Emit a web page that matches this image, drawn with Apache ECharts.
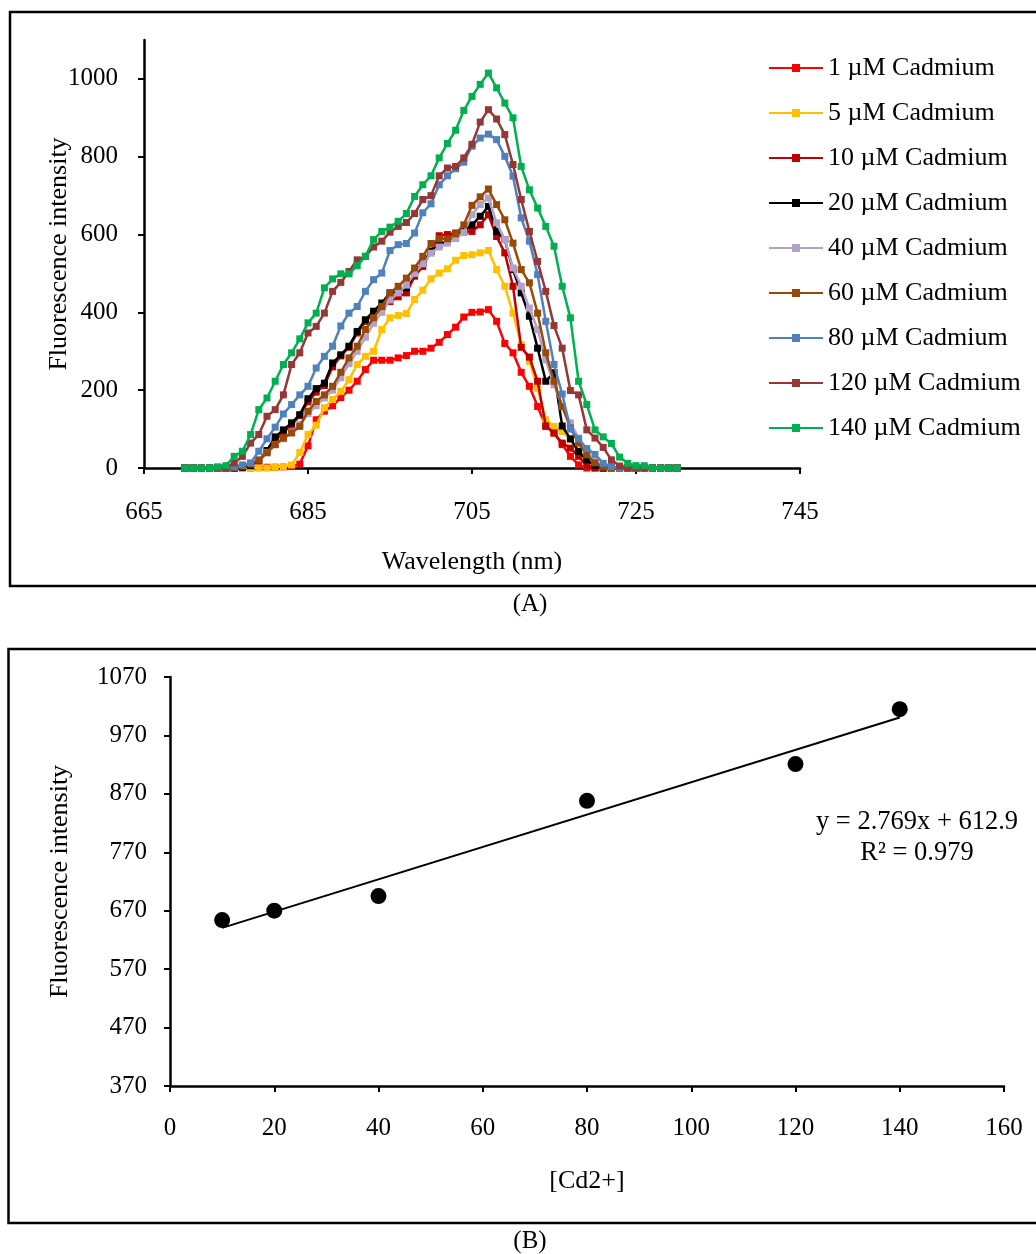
<!DOCTYPE html>
<html>
<head>
<meta charset="utf-8">
<script src="https://cdn.jsdelivr.net/npm/echarts@6/dist/echarts.min.js"></script>
<style>
html,body{margin:0;padding:0;background:#fff;}
#chart{width:1036px;height:1254px;}
</style>
</head>
<body>
<div id="chart"></div>
<script>
// ---------- Panel A data ----------
const wavelengths = [670,671,672,673,674,675,676,677,678,679,680,681,682,683,684,685,686,687,688,689,690,691,692,693,694,695,696,697,698,699,700,701,702,703,704,705,706,707,708,709,710,711,712,713,714,715,716,717,718,719,720,721,722,723,724,725,726,727,728,729,730];
const seriesNames = ["1 µM Cadmium","5 µM Cadmium","10 µM Cadmium","20 µM Cadmium","40 µM Cadmium","60 µM Cadmium","80 µM Cadmium","120 µM Cadmium","140 µM Cadmium"];
const seriesColors = ["#FF0000","#FFC000","#C00000","#000000","#B3A2C7","#984807","#4F81BD","#953735","#00B050"];

const cd1   = [0,0,0,0,0,0,0,0,0,1,2,2,3,4,10,57,124,146,160,181,200,223,253,277,277,277,283,289,300,300,308,323,343,362,388,400,401,407,377,320,296,246,210,158,107,90,60,30,8,0,0,0,0,0,0,0,0,0,0,0,0];
const cd5   = [0,0,0,0,0,0,0,0,0,0,0,2,4,8,40,86,110,155,176,197,227,266,287,300,356,386,392,397,433,457,486,501,512,534,546,548,553,559,510,467,398,317,274,205,124,107,94,73,39,8,0,0,0,0,0,0,0,0,0,0,0];
const cd10  = [0,0,0,0,0,0,0,2,8,20,42,70,92,110,135,170,195,212,260,288,310,347,377,395,412,428,440,450,493,518,557,597,600,604,608,608,625,651,595,553,467,310,285,223,108,90,64,51,30,6,0,0,0,0,0,0,0,0,0,0,0];
const cd20  = [0,0,0,0,0,0,0,2,6,20,45,80,98,116,137,178,204,218,270,291,313,351,381,403,424,450,454,463,501,527,557,574,583,591,608,625,647,672,608,587,510,450,390,308,223,245,108,75,43,21,6,0,0,0,0,0,0,0,0,0,0];
const cd40  = [0,0,0,0,0,0,3,6,12,22,40,60,75,92,112,140,160,180,200,232,268,300,336,372,400,432,450,470,500,525,552,568,578,590,605,651,677,694,630,587,514,467,411,356,278,214,158,116,77,39,17,3,0,0,0,0,0,0,0,0,0];
const cd60  = [0,0,0,0,0,0,2,5,10,20,39,60,77,90,107,146,171,188,210,246,283,313,356,386,415,450,467,488,514,544,577,589,589,602,625,675,697,717,677,638,578,510,476,398,296,223,158,103,64,34,13,3,0,0,0,0,0,0,0,0,0];
const cd80  = [0,0,0,0,0,2,3,8,13,43,75,105,139,163,188,210,257,287,313,365,398,415,454,484,501,559,574,577,604,656,679,728,751,769,786,827,848,858,844,801,750,643,583,497,377,266,190,100,75,50,35,12,4,0,0,0,0,0,0,0,0];
const cd120 = [0,0,0,0,0,0,13,30,64,86,133,150,188,266,296,347,364,398,454,477,505,535,544,568,583,606,621,631,654,690,700,751,771,775,797,832,889,921,897,857,780,690,608,531,454,366,308,199,188,98,77,53,21,5,0,0,0,0,0,0,0];
const cd140 = [0,0,0,0,3,6,30,43,86,150,180,223,266,296,332,373,398,463,486,499,499,520,544,587,608,619,634,654,698,728,751,797,834,868,919,955,986,1015,977,938,900,775,715,668,621,570,467,386,223,163,98,80,63,28,12,6,6,0,0,0,0];
const spectra = [cd1,cd5,cd10,cd20,cd40,cd60,cd80,cd120,cd140];

const xTicksA = [665,685,705,725,745];
const yTicksA = [0,200,400,600,800,1000];

// ---------- Panel B data ----------
const concentrations = [10,20,40,80,120,140];
const peakIntensity  = [654,670,695,858,921,1015];
const fitSlope = 2.769;
const fitIntercept = 612.9;
const fitR2 = 0.979;
const fitRange = [10,140];
const xTicksB = [0,20,40,60,80,100,120,140,160];
const yTicksB = [370,470,570,670,770,870,970,1070];

const FONT = "'Liberation Serif','Times New Roman',serif";
const chart = echarts.init(document.getElementById('chart'), null, {renderer:'canvas'});

const axisLineStyle = {show:true, lineStyle:{color:'#000', width:2.5}};
const tickStyle = {show:true, length:6, lineStyle:{color:'#000', width:2}};
const labelStyle = {color:'#000', fontSize:25, fontFamily:FONT, formatter:(v)=>String(v)};
const nameStyle = {fontSize:26, color:'#000', fontFamily:FONT};

const specSeries = spectra.map((vals,i)=>({
  name: seriesNames[i],
  type:'line',
  xAxisIndex:0, yAxisIndex:0,
  data: wavelengths.map((w,j)=>[w, vals[j]]),
  symbol:'rect', symbolSize:7,
  showSymbol:true,
  color: seriesColors[i],
  lineStyle:{width:2.5, color: seriesColors[i]},
  itemStyle:{color: seriesColors[i]},
  animation:false,
  z: 2+i
}));

const option = {
  animation:false,
  backgroundColor:'#fff',
  textStyle:{fontFamily:FONT},
  legend:{
    data: seriesNames,
    orient:'vertical',
    left:763, top:50,
    itemWidth:54, itemHeight:10, itemGap:19,
    textStyle:{fontSize:26, lineHeight:26, color:'#000', fontFamily:FONT}
  },
  grid:[
    {left:144, top:40, width:656, height:428},
    {left:170, top:677, width:834, height:409}
  ],
  xAxis:[
    {gridIndex:0, type:'value', min:665, max:745,
     name:'Wavelength (nm)', nameLocation:'middle', nameGap:81, nameMoveOverlap:false,
     nameTextStyle:nameStyle,
     axisLine:axisLineStyle,
     axisTick:Object.assign({customValues:xTicksA}, tickStyle),
     axisLabel:Object.assign({customValues:xTicksA, margin:32}, labelStyle),
     splitLine:{show:false}},
    {gridIndex:1, type:'value', min:0, max:160, interval:20,
     name:'[Cd2+]', nameLocation:'middle', nameGap:82, nameMoveOverlap:false,
     nameTextStyle:nameStyle,
     axisLine:axisLineStyle,
     axisTick:Object.assign({customValues:xTicksB}, tickStyle),
     axisLabel:Object.assign({customValues:xTicksB, margin:30}, labelStyle),
     splitLine:{show:false}}
  ],
  yAxis:[
    {gridIndex:0, type:'value', min:0, max:1100,
     name:'Fluorescence intensity', nameLocation:'middle', nameGap:72, nameRotate:90, nameMoveOverlap:false,
     nameTextStyle:nameStyle,
     axisLine:axisLineStyle,
     axisTick:Object.assign({customValues:yTicksA}, tickStyle),
     axisLabel:Object.assign({customValues:yTicksA, margin:26}, labelStyle),
     splitLine:{show:false}},
    {gridIndex:1, type:'value', min:370, max:1070,
     name:'Fluorescence intensity', nameLocation:'middle', nameGap:97, nameRotate:90, nameMoveOverlap:false,
     nameTextStyle:nameStyle,
     axisLine:axisLineStyle,
     axisTick:Object.assign({customValues:yTicksB}, tickStyle),
     axisLabel:Object.assign({customValues:yTicksB, margin:23}, labelStyle),
     splitLine:{show:false}}
  ],
  series: specSeries.concat([
    {
      name:'fit', type:'line', xAxisIndex:1, yAxisIndex:1,
      data: fitRange.map(x=>[x, fitSlope*x+fitIntercept]),
      showSymbol:false, symbol:'none',
      lineStyle:{color:'#000', width:2}, z:2
    },
    {
      name:'points', type:'scatter', xAxisIndex:1, yAxisIndex:1,
      data: concentrations.map((c,i)=>[c, peakIntensity[i]]),
      symbol:'circle', symbolSize:16,
      itemStyle:{color:'#000', opacity:1}, z:3
    }
  ]),
  graphic:[
    {type:'rect', shape:{x:10, y:12, width:1040, height:574}, style:{fill:null, stroke:'#000', lineWidth:2.5}, silent:true},
    {type:'rect', shape:{x:8.5, y:649, width:1040, height:574}, style:{fill:null, stroke:'#000', lineWidth:2.5}, silent:true},
    {type:'text', x:530, y:604, style:{text:'(A)', fontSize:25, fontFamily:FONT, fill:'#000', align:'center', verticalAlign:'middle'}},
    {type:'text', x:530, y:1241, style:{text:'(B)', fontSize:25, fontFamily:FONT, fill:'#000', align:'center', verticalAlign:'middle'}},
    {type:'text', x:917, y:822, style:{text:'y = ' + fitSlope + 'x + ' + fitIntercept, fontSize:26.5, fontFamily:FONT, fill:'#000', align:'center', verticalAlign:'middle'}},
    {type:'text', x:917, y:853, style:{text:'R² = ' + fitR2, fontSize:26.5, fontFamily:FONT, fill:'#000', align:'center', verticalAlign:'middle'}}
  ]
};
chart.setOption(option);
</script>
</body>
</html>
